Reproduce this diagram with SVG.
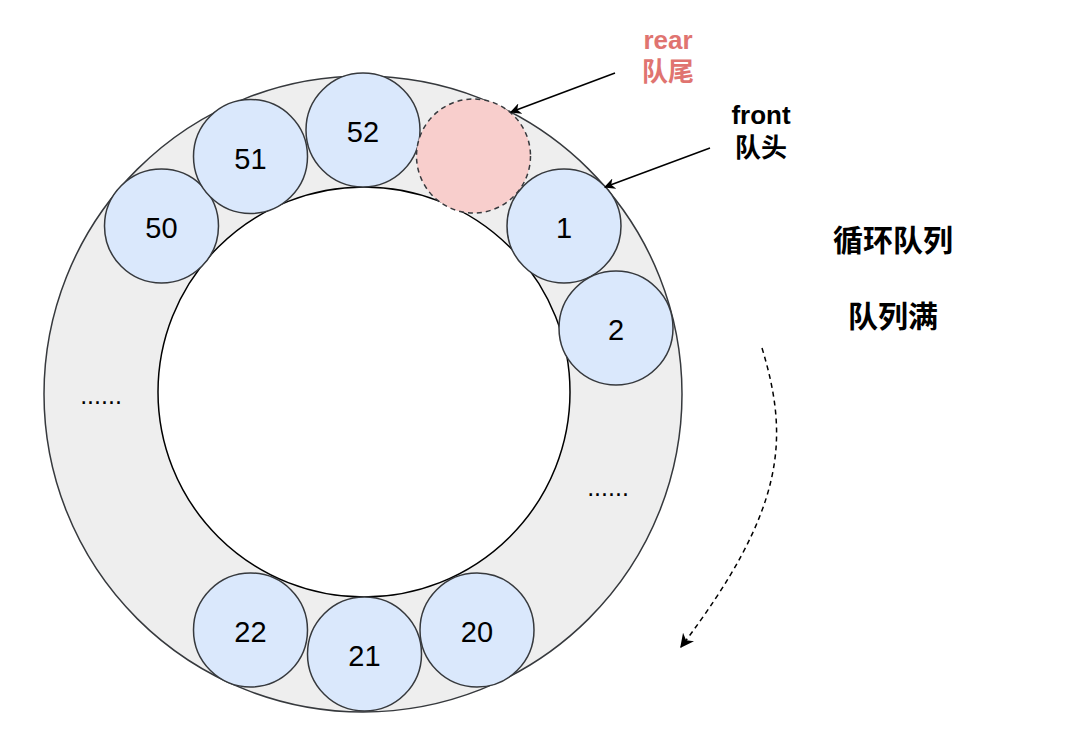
<svg xmlns="http://www.w3.org/2000/svg" width="1080" height="747" viewBox="0 0 1080 747">
<style>
.slot{fill:#dae8fc;stroke:#36393d;stroke-width:1.5}
.num{font-family:"Liberation Sans",Arial,sans-serif;font-size:29px;fill:#000;text-anchor:middle;dominant-baseline:central}
.lbl{font-family:"Liberation Sans","Noto Sans CJK SC",sans-serif;font-size:26px;font-weight:bold;text-anchor:middle;dominant-baseline:central}
.big{font-size:30px}
.dots{font-family:"Liberation Sans",Arial,sans-serif;font-size:25px;fill:#000;text-anchor:middle}
</style>
<defs>
<marker id="ah" viewBox="0 0 10 10" refX="9" refY="5" markerWidth="11" markerHeight="11" markerUnits="userSpaceOnUse" orient="auto">
<path d="M0,0 L10,5 L0,10 L3,5 Z" fill="#000"/>
</marker>
<marker id="ah2" viewBox="0 0 10 10" refX="9" refY="5" markerWidth="14" markerHeight="14" markerUnits="userSpaceOnUse" orient="auto">
<path d="M0,0 L10,5 L0,10 L3,5 Z" fill="#000"/>
</marker>
</defs>
<rect width="1080" height="747" fill="#fff"/>
<g id="ring">
<ellipse cx="363" cy="394" rx="319" ry="318" fill="#eeeeee" stroke="#36393d" stroke-width="1.5"/>
<ellipse cx="364" cy="392" rx="206" ry="205" fill="#fff" stroke="#000" stroke-width="1.5"/>
</g>
<g id="n50"><circle class="slot" cx="161.5" cy="226" r="57"/><text class="num" x="161.5" y="228">50</text></g>
<g id="n51"><circle class="slot" cx="250.5" cy="156.5" r="57"/><text class="num" x="250.5" y="158.5">51</text></g>
<g id="n52"><circle class="slot" cx="363" cy="130" r="57"/><text class="num" x="363" y="132">52</text></g>
<g id="rear"><circle cx="473.5" cy="156" r="57" fill="#f8cecc" stroke="#36393d" stroke-width="1.5" stroke-dasharray="5,4"/></g>
<g id="n1"><circle class="slot" cx="564" cy="226" r="57"/><text class="num" x="564" y="228">1</text></g>
<g id="n2"><circle class="slot" cx="616" cy="328" r="57"/><text class="num" x="616" y="330">2</text></g>
<g id="n22"><circle class="slot" cx="250.5" cy="630" r="57"/><text class="num" x="250.5" y="632">22</text></g>
<g id="n21"><circle class="slot" cx="364.5" cy="654" r="57"/><text class="num" x="364.5" y="656">21</text></g>
<g id="n20"><circle class="slot" cx="477" cy="630" r="57"/><text class="num" x="477" y="632">20</text></g>
<g id="ellipsis">
<text class="dots" x="101" y="404">......</text>
<text class="dots" x="608" y="496">......</text>
</g>
<g id="labels">
<text class="lbl" x="668" y="40" fill="#e07470">rear</text>
<text class="lbl" x="668" y="72" fill="#e07470">队尾</text>
<text class="lbl" x="761" y="115" fill="#000">front</text>
<text class="lbl" x="761" y="148" fill="#000">队头</text>
<text class="lbl big" x="893" y="240" fill="#000">循环队列</text>
<text class="lbl big" x="893" y="316" fill="#000">队列满</text>
</g>
<g id="connectors" fill="none" stroke="#000" stroke-width="1.5">
<path d="M615,73 L511,112" marker-end="url(#ah)"/>
<path d="M710,148 L605,187" marker-end="url(#ah)"/>
<path d="M762,348 C790,440 785,510 681,647" stroke-dasharray="5,4" marker-end="url(#ah2)"/>
</g>
</svg>
